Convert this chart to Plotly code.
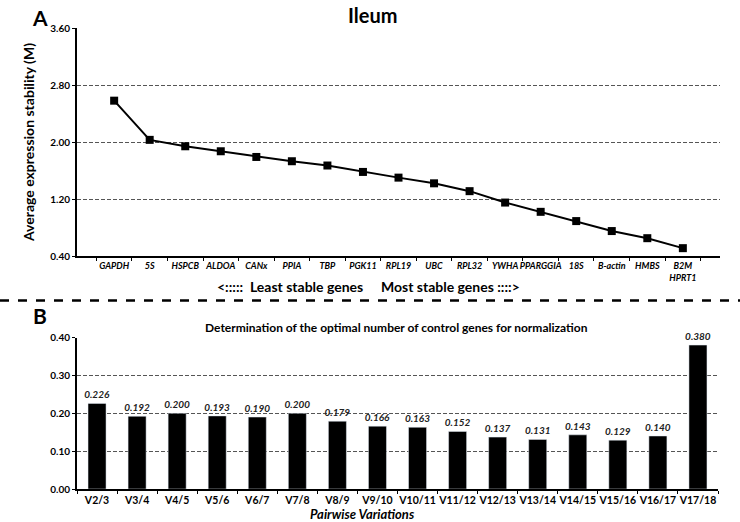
import plotly.graph_objects as go

genes = ["GAPDH", "5S", "HSPCB", "ALDOA", "CANx", "PPIA", "TBP", "PGK11", "RPL19",
         "UBC", "RPL32", "YWHA", "PPARGGIA", "18S", "B-actin", "HMBS", "B2M<br>HPRT1"]
m_values = [2.58, 2.03, 1.94, 1.87, 1.79, 1.73, 1.67, 1.58, 1.50,
            1.42, 1.31, 1.15, 1.02, 0.89, 0.75, 0.65, 0.51]

pairs = ["V2/3", "V3/4", "V4/5", "V5/6", "V6/7", "V7/8", "V8/9", "V9/10", "V10/11",
         "V11/12", "V12/13", "V13/14", "V14/15", "V15/16", "V16/17", "V17/18"]
v_values = [0.226, 0.192, 0.200, 0.193, 0.190, 0.200, 0.179, 0.166, 0.163,
            0.152, 0.137, 0.131, 0.143, 0.129, 0.140, 0.380]

FONT = "Lato"
W, H = 740, 522

fig = go.Figure()
fig.add_trace(go.Scatter(
    x=genes, y=m_values, mode="lines+markers",
    line=dict(color="black", width=2),
    marker=dict(symbol="square", size=8, color="black"),
    xaxis="x", yaxis="y", showlegend=False, cliponaxis=False))

bar_text_font = dict(family=FONT, size=10, color="#222", style="italic", weight="bold")
fig.add_trace(go.Bar(
    x=pairs, y=v_values, marker=dict(color="black"), width=0.45,
    texttemplate="%{y:.3f}", textposition="outside", constraintext="none",
    textfont=bar_text_font, outsidetextfont=bar_text_font,
    xaxis="x2", yaxis="y2", showlegend=False, cliponaxis=False))

axis_common = dict(showline=True, linecolor="black", linewidth=2, ticks="outside",
                   tickcolor="black", ticklen=3, automargin=False, tickangle=0)
grid_common = dict(showgrid=True, gridcolor="#555", griddash="4px,2px", gridwidth=1,
                   zeroline=False)

fig.update_layout(
    width=W, height=H, margin=dict(l=0, r=0, t=0, b=0),
    paper_bgcolor="white", plot_bgcolor="white",
    font=dict(family=FONT, color="black"),
    xaxis=dict(domain=[77 / W, 720 / W], anchor="y", type="category",
               tickson="boundaries", showgrid=False,
               tickfont=dict(family=FONT, size=9, weight="bold", style="italic"),
               **axis_common),
    yaxis=dict(domain=[(H - 256) / H, (H - 28) / H], anchor="x",
               range=[0.4, 3.6], tick0=0.4, dtick=0.8, tickformat=".2f",
               tickfont=dict(family=FONT, size=10, weight="bold"),
               title=dict(text="Average expression stability (M)",
                          font=dict(family=FONT, size=14, weight="bold"), standoff=12),
               **grid_common, **axis_common),
    xaxis2=dict(domain=[77 / W, 718 / W], anchor="y2", type="category",
                tickson="boundaries", showgrid=False,
                tickfont=dict(family=FONT, size=10.5, weight="bold"),
                **axis_common),
    yaxis2=dict(domain=[(H - 489) / H, (H - 337.5) / H], anchor="x2",
                range=[0, 0.4], dtick=0.1, tickformat=".2f",
                tickfont=dict(family=FONT, size=10, weight="bold"),
                **grid_common, **axis_common),
    bargap=0.55,
)

def ann(text, x, y, size, weight="bold", style="normal", xanchor="center"):
    fig.add_annotation(text=text, x=x / W, y=1 - y / H, xref="paper", yref="paper",
                       showarrow=False, xanchor=xanchor, yanchor="middle",
                       font=dict(family=FONT, size=size, weight=weight, style=style,
                                 color="black"))

ann("Ileum", 372, 15, 20)
ann("A", 40, 17, 21)
ann("B", 40, 315, 21)
ann("<:::::  Least stable genes", 290, 286, 14)
ann("Most stable genes ::::>", 450, 286, 14)
ann("Determination of the optimal number of control genes for normalization", 396, 327, 12)
ann("Pairwise Variations", 362, 514, 13, style="italic")

fig.add_shape(type="line", xref="paper", yref="paper", x0=0, x1=1,
              y0=1 - 300.5 / H, y1=1 - 300.5 / H,
              line=dict(color="black", width=2.5, dash="dash"))

fig.write_html("out.html", config={"displayModeBar": False},
               post_script="document.body.style.margin='0';document.body.style.overflow='hidden';")
